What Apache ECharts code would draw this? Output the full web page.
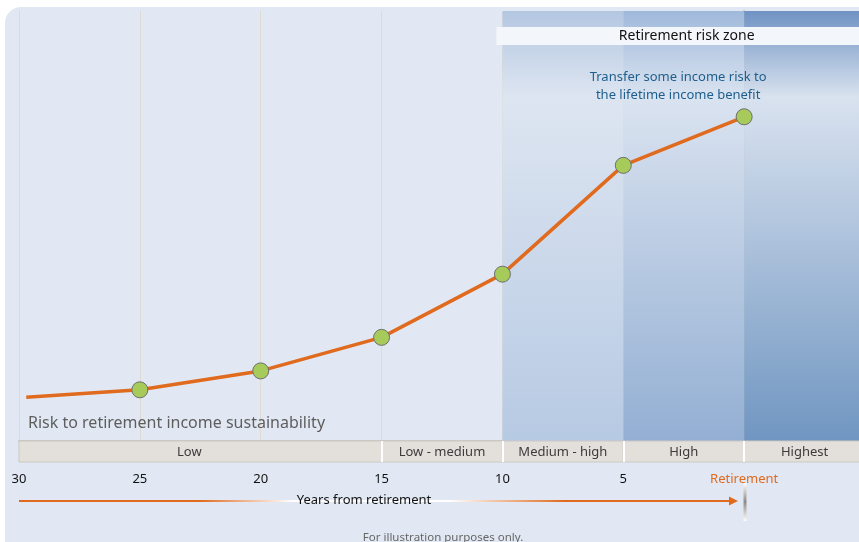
<!DOCTYPE html>
<html><head><meta charset="utf-8">
<script src="https://cdn.jsdelivr.net/npm/echarts@6/dist/echarts.min.js"></script>
<style>html,body{margin:0;padding:0;background:#fff}#c{width:859px;height:542px}</style>
</head><body><div id="c"></div>
<script>
// ---- data ----
const yearsFromRetirement = [29.7, 25, 20, 15, 10, 5, 0];
const riskLevel = [10.2, 11.9, 16.3, 24.1, 38.8, 64.1, 75.4];
const riskBands = ['Low', 'Low - medium', 'Medium - high', 'High', 'Highest'];
const bandStarts = [30, 15, 10, 5, 0];
const bandEnds = [15, 10, 5, 0, -5];
const zoneStarts = [10, 5, 0];
const zoneEnds = [5, 0, -5];
const riskZoneTitle = 'Retirement risk zone';
const annotationText = 'Transfer some income risk to\nthe lifetime income benefit';
const yAxisTitle = 'Risk to retirement income sustainability';
const xAxisTitle = 'Years from retirement';
const retirementLabel = 'Retirement';
const footnote = 'For illustration purposes only.';

const FONT = 'Noto Sans';
const ORANGE = '#E06A1E';
const zoneColors = [
  ['#B4C7E1', '#DDE5F1', '#B7CAE3'],
  ['#A0B9DB', '#DAE3F0', '#93AFD3'],
  ['#7093C4', '#D9E2EF', '#7096C1']
];
function vgrad(c) {
  return new echarts.graphic.LinearGradient(0, 0, 0, 1, [
    {offset: 0, color: c[0]}, {offset: 0.2, color: c[1]}, {offset: 1, color: c[2]}
  ]);
}

const chart = echarts.init(document.getElementById('c'));
const GL = 19, GW = 846;

const option = {
  animation: false,
  textStyle: {fontFamily: FONT},
  graphic: [
    {type: 'rect', z: -10, shape: {x: 5, y: 7, width: 880, height: 560, r: 16},
      style: {fill: '#E1E8F3'}},
    {type: 'text', left: 28, top: 415, z: 5,
      style: {text: yAxisTitle, fill: '#5E5E5E', font: '16px "' + FONT + '"'}},
    {type: 'line', z: 5, shape: {x1: 19, y1: 501, x2: 731, y2: 501},
      style: {lineWidth: 2, stroke: new echarts.graphic.LinearGradient(19, 0, 737, 0, [
        {offset: 0, color: ORANGE}, {offset: 0.25, color: ORANGE}, {offset: 0.38, color: '#ffffff'},
        {offset: 0.6, color: '#ffffff'}, {offset: 0.76, color: ORANGE}, {offset: 1, color: ORANGE}
      ], true)}},
    {type: 'polygon', z: 5, shape: {points: [[729, 496.5], [738, 501], [729, 505.5]]},
      style: {fill: ORANGE}},
    {type: 'rect', z: 5, shape: {x: 743.5, y: 483, width: 3, height: 38},
      style: {fill: new echarts.graphic.LinearGradient(0, 0, 0, 1, [
        {offset: 0, color: '#ffffff'}, {offset: 0.5, color: '#8E8A86'}, {offset: 1, color: '#ffffff'}
      ])}},
    {type: 'text', z: 6, x: 364, y: 500,
      style: {text: xAxisTitle, fill: '#111', font: '13px "' + FONT + '"', align: 'center', verticalAlign: 'middle'}},
    {type: 'text', z: 6, x: 443, y: 538,
      style: {text: footnote, fill: '#666', font: '11.5px "' + FONT + '"', align: 'center', verticalAlign: 'middle'}}
  ],
  grid: [
    {left: GL, top: 11, width: GW, height: 430, show: true, backgroundColor: '#E1E8F3', borderWidth: 0,
      outerBoundsMode: 'none', containLabel: false},
    {left: GL, top: 441, width: GW, height: 21, outerBoundsMode: 'none', containLabel: false}
  ],
  xAxis: [
    {type: 'value', gridIndex: 0, inverse: true, min: -5, max: 30, interval: 5, position: 'top',
      axisLine: {show: true, lineStyle: {color: '#C9C7C3', width: 2}},
      axisTick: {show: false}, axisLabel: {show: false},
      splitLine: {show: true, lineStyle: {color: '#E0DBD2', width: 1}}},
    {type: 'value', gridIndex: 1, inverse: true, min: -5, max: 30, interval: 5, position: 'bottom',
      axisLine: {show: false}, axisTick: {show: false}, splitLine: {show: false},
      axisLabel: {show: true, margin: 11, fontSize: 13, color: '#111', fontFamily: FONT,
        formatter: v => v < 0 ? '' : (v === 0 ? '{r|' + retirementLabel + '}' : String(v)),
        rich: {r: {color: ORANGE, fontSize: 13, fontFamily: FONT, padding: [0, 0, 2, 0]}}}}
  ],
  yAxis: [
    {type: 'value', gridIndex: 0, min: 0, max: 100,
      axisLine: {show: true, lineStyle: {color: '#C6C3BE', width: 2}},
      axisTick: {show: false}, axisLabel: {show: false}, splitLine: {show: false}},
    {type: 'value', gridIndex: 1, min: 0, max: 1,
      axisLine: {show: true, lineStyle: {color: '#C6C3BE', width: 2}},
      axisTick: {show: false}, axisLabel: {show: false}, splitLine: {show: false}}
  ],
  series: [
    {type: 'line', xAxisIndex: 0, yAxisIndex: 0, data: [], z: 1,
      markArea: {silent: true, data: zoneStarts.map((s, i) => [
        {xAxis: s, itemStyle: {color: vgrad(zoneColors[i])}}, {xAxis: zoneEnds[i]}
      ])}},
    {type: 'line', xAxisIndex: 0, yAxisIndex: 0, data: [], z: 2,
      markArea: {silent: true, data: [[
        {xAxis: 10.25, yAxis: 96.3, name: riskZoneTitle, itemStyle: {color: '#F3F6FB'},
          label: {show: true, position: 'inside', offset: [6, 0], color: '#111', fontSize: 14, fontFamily: FONT}},
        {xAxis: -5, yAxis: 92.1}
      ]]}},
    {type: 'line', xAxisIndex: 1, yAxisIndex: 1, data: [], z: 2,
      markArea: {silent: true, data: riskBands.map((b, i) => [
        {xAxis: bandStarts[i], name: b, itemStyle: {color: '#E3DFDB', borderColor: '#CDC8C2', borderWidth: 1},
          label: {show: true, position: 'inside', color: '#3C3C3C', fontSize: 13, fontFamily: FONT,
            offset: [i === 0 ? -11 : 0, 1]}},
        {xAxis: bandEnds[i]}
      ])},
      markLine: {silent: true, symbol: 'none', label: {show: false},
        lineStyle: {color: '#ffffff', width: 2, type: 'solid'},
        data: bandStarts.slice(1).map(s => ({xAxis: s}))}},
    {type: 'line', xAxisIndex: 0, yAxisIndex: 0, z: 5,
      lineStyle: {color: ORANGE, width: 3.5},
      symbol: 'circle', symbolSize: 16,
      itemStyle: {color: '#A6CB5A', borderColor: '#6E6E6E', borderWidth: 1},
      data: yearsFromRetirement.map((x, i) => {
        const d = {value: [x, riskLevel[i]]};
        if (i === 0) d.symbol = 'none';
        if (i === yearsFromRetirement.length - 1) {
          d.label = {show: true, position: 'top', distance: 4, offset: [-66, 0],
            formatter: annotationText, color: '#1E5E8C', fontSize: 13, lineHeight: 18,
            align: 'center', fontFamily: FONT};
        }
        return d;
      })}
  ]
};
chart.setOption(option);
</script></body></html>
